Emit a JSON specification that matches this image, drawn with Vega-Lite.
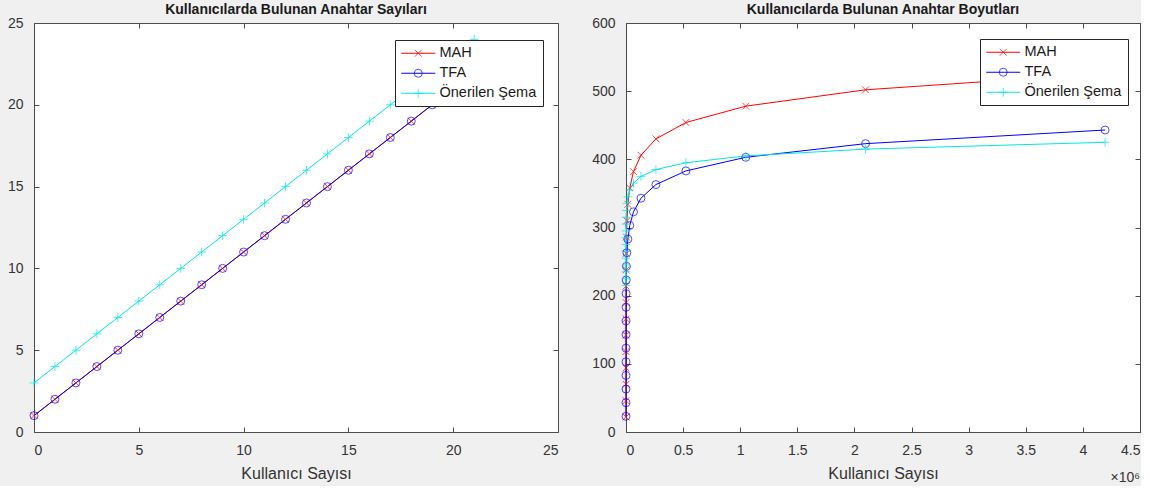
{
  "$schema": "https://vega.github.io/schema/vega-lite/v6.json",
  "background": "#f0f0f0",
  "padding": {"left": 3, "top": 2, "right": 0, "bottom": 0},
  "spacing": 32,
  "resolve": {"scale": {"color": "independent", "stroke": "independent", "shape": "independent"}},
  "config": {
    "font": "Liberation Sans",
    "view": {"stroke": "#4d4d4d", "fill": "white", "strokeWidth": 1},
    "axis": {"domain": false, "grid": false, "tickColor": "#4d4d4d", "tickSize": -5, "labelFontSize": 14, "labelColor": "#333333", "titleFontSize": 16, "titleFontWeight": "normal", "titleColor": "#333333", "labelFont": "Liberation Sans", "titleFont": "Liberation Sans"},
    "title": {"fontSize": 14, "fontWeight": "bold", "color": "#1a1a1a", "offset": -1, "anchor": "middle"},
    "legend": {"orient": "none", "padding": 6, "rowPadding": 5, "labelFontSize": 14.5, "symbolOffset": 10, "labelOffset": 14, "symbolStrokeWidth": 1, "symbolSize": 64, "cornerRadius": 0}
  },
  "datasets": {
    "left": [
      {"s": "MAH", "x": 0, "y": 1}, {"s": "MAH", "x": 1, "y": 2}, {"s": "MAH", "x": 2, "y": 3}, {"s": "MAH", "x": 3, "y": 4}, {"s": "MAH", "x": 4, "y": 5}, {"s": "MAH", "x": 5, "y": 6}, {"s": "MAH", "x": 6, "y": 7}, {"s": "MAH", "x": 7, "y": 8}, {"s": "MAH", "x": 8, "y": 9}, {"s": "MAH", "x": 9, "y": 10}, {"s": "MAH", "x": 10, "y": 11}, {"s": "MAH", "x": 11, "y": 12}, {"s": "MAH", "x": 12, "y": 13}, {"s": "MAH", "x": 13, "y": 14}, {"s": "MAH", "x": 14, "y": 15}, {"s": "MAH", "x": 15, "y": 16}, {"s": "MAH", "x": 16, "y": 17}, {"s": "MAH", "x": 17, "y": 18}, {"s": "MAH", "x": 18, "y": 19}, {"s": "MAH", "x": 19, "y": 20}, {"s": "MAH", "x": 20, "y": 21}, {"s": "MAH", "x": 21, "y": 22},
      {"s": "TFA", "x": 0, "y": 1}, {"s": "TFA", "x": 1, "y": 2}, {"s": "TFA", "x": 2, "y": 3}, {"s": "TFA", "x": 3, "y": 4}, {"s": "TFA", "x": 4, "y": 5}, {"s": "TFA", "x": 5, "y": 6}, {"s": "TFA", "x": 6, "y": 7}, {"s": "TFA", "x": 7, "y": 8}, {"s": "TFA", "x": 8, "y": 9}, {"s": "TFA", "x": 9, "y": 10}, {"s": "TFA", "x": 10, "y": 11}, {"s": "TFA", "x": 11, "y": 12}, {"s": "TFA", "x": 12, "y": 13}, {"s": "TFA", "x": 13, "y": 14}, {"s": "TFA", "x": 14, "y": 15}, {"s": "TFA", "x": 15, "y": 16}, {"s": "TFA", "x": 16, "y": 17}, {"s": "TFA", "x": 17, "y": 18}, {"s": "TFA", "x": 18, "y": 19}, {"s": "TFA", "x": 19, "y": 20}, {"s": "TFA", "x": 20, "y": 21}, {"s": "TFA", "x": 21, "y": 22},
      {"s": "Önerilen Şema", "x": 0, "y": 3}, {"s": "Önerilen Şema", "x": 1, "y": 4}, {"s": "Önerilen Şema", "x": 2, "y": 5}, {"s": "Önerilen Şema", "x": 3, "y": 6}, {"s": "Önerilen Şema", "x": 4, "y": 7}, {"s": "Önerilen Şema", "x": 5, "y": 8}, {"s": "Önerilen Şema", "x": 6, "y": 9}, {"s": "Önerilen Şema", "x": 7, "y": 10}, {"s": "Önerilen Şema", "x": 8, "y": 11}, {"s": "Önerilen Şema", "x": 9, "y": 12}, {"s": "Önerilen Şema", "x": 10, "y": 13}, {"s": "Önerilen Şema", "x": 11, "y": 14}, {"s": "Önerilen Şema", "x": 12, "y": 15}, {"s": "Önerilen Şema", "x": 13, "y": 16}, {"s": "Önerilen Şema", "x": 14, "y": 17}, {"s": "Önerilen Şema", "x": 15, "y": 18}, {"s": "Önerilen Şema", "x": 16, "y": 19}, {"s": "Önerilen Şema", "x": 17, "y": 20}, {"s": "Önerilen Şema", "x": 18, "y": 21}, {"s": "Önerilen Şema", "x": 19, "y": 22}, {"s": "Önerilen Şema", "x": 20, "y": 23}, {"s": "Önerilen Şema", "x": 21, "y": 24}
    ],
    "right": [
      {"s": "MAH", "x": 2, "y": 22}, {"s": "MAH", "x": 4, "y": 46}, {"s": "MAH", "x": 8, "y": 70}, {"s": "MAH", "x": 16, "y": 94}, {"s": "MAH", "x": 32, "y": 118}, {"s": "MAH", "x": 64, "y": 142}, {"s": "MAH", "x": 128, "y": 166}, {"s": "MAH", "x": 256, "y": 190}, {"s": "MAH", "x": 512, "y": 214}, {"s": "MAH", "x": 1024, "y": 238}, {"s": "MAH", "x": 2048, "y": 262}, {"s": "MAH", "x": 4096, "y": 286}, {"s": "MAH", "x": 8192, "y": 310}, {"s": "MAH", "x": 16384, "y": 334}, {"s": "MAH", "x": 32768, "y": 358}, {"s": "MAH", "x": 65536, "y": 382}, {"s": "MAH", "x": 131072, "y": 406}, {"s": "MAH", "x": 262144, "y": 430}, {"s": "MAH", "x": 524288, "y": 454}, {"s": "MAH", "x": 1048576, "y": 478}, {"s": "MAH", "x": 2097152, "y": 502}, {"s": "MAH", "x": 4194304, "y": 526},
      {"s": "TFA", "x": 2, "y": 23}, {"s": "TFA", "x": 4, "y": 43}, {"s": "TFA", "x": 8, "y": 63}, {"s": "TFA", "x": 16, "y": 83}, {"s": "TFA", "x": 32, "y": 103}, {"s": "TFA", "x": 64, "y": 123}, {"s": "TFA", "x": 128, "y": 143}, {"s": "TFA", "x": 256, "y": 163}, {"s": "TFA", "x": 512, "y": 183}, {"s": "TFA", "x": 1024, "y": 203}, {"s": "TFA", "x": 2048, "y": 223}, {"s": "TFA", "x": 4096, "y": 243}, {"s": "TFA", "x": 8192, "y": 263}, {"s": "TFA", "x": 16384, "y": 283}, {"s": "TFA", "x": 32768, "y": 303}, {"s": "TFA", "x": 65536, "y": 323}, {"s": "TFA", "x": 131072, "y": 343}, {"s": "TFA", "x": 262144, "y": 363}, {"s": "TFA", "x": 524288, "y": 383}, {"s": "TFA", "x": 1048576, "y": 403}, {"s": "TFA", "x": 2097152, "y": 423}, {"s": "TFA", "x": 4194304, "y": 443},
      {"s": "Önerilen Şema", "x": 2, "y": 215}, {"s": "Önerilen Şema", "x": 4, "y": 225}, {"s": "Önerilen Şema", "x": 8, "y": 235}, {"s": "Önerilen Şema", "x": 16, "y": 245}, {"s": "Önerilen Şema", "x": 32, "y": 255}, {"s": "Önerilen Şema", "x": 64, "y": 265}, {"s": "Önerilen Şema", "x": 128, "y": 275}, {"s": "Önerilen Şema", "x": 256, "y": 285}, {"s": "Önerilen Şema", "x": 512, "y": 295}, {"s": "Önerilen Şema", "x": 1024, "y": 305}, {"s": "Önerilen Şema", "x": 2048, "y": 315}, {"s": "Önerilen Şema", "x": 4096, "y": 325}, {"s": "Önerilen Şema", "x": 8192, "y": 335}, {"s": "Önerilen Şema", "x": 16384, "y": 345}, {"s": "Önerilen Şema", "x": 32768, "y": 355}, {"s": "Önerilen Şema", "x": 65536, "y": 365}, {"s": "Önerilen Şema", "x": 131072, "y": 375}, {"s": "Önerilen Şema", "x": 262144, "y": 385}, {"s": "Önerilen Şema", "x": 524288, "y": 395}, {"s": "Önerilen Şema", "x": 1048576, "y": 405}, {"s": "Önerilen Şema", "x": 2097152, "y": 415}, {"s": "Önerilen Şema", "x": 4194304, "y": 425}
    ],
    "exponent": [{"t": "×10⁶"}]
  },
  "hconcat": [
    {
      "width": 524,
      "height": 409,
      "title": "Kullanıcılarda Bulunan Anahtar Sayıları",
      "data": {"name": "left"},
      "layer": [
        {
          "mark": {"type": "line", "strokeWidth": 1},
          "encoding": {
            "x": {"field": "x", "type": "quantitative", "scale": {"domain": [0, 25], "nice": false}, "axis": {"orient": "bottom", "values": [0, 5, 10, 15, 20, 25], "title": "Kullanıcı Sayısı", "labelPadding": 16, "titlePadding": 8}},
            "y": {"field": "y", "type": "quantitative", "scale": {"domain": [0, 25], "nice": false}, "axis": {"orient": "left", "values": [0, 5, 10, 15, 20, 25], "title": null, "labelPadding": 16, "minExtent": 30, "maxExtent": 30}},
            "color": {"field": "s", "type": "nominal", "scale": {"domain": ["MAH", "TFA", "Önerilen Şema"], "range": ["#ff0000", "#0000ff", "#00e6e6"]}, "legend": {"title": null, "legendX": 361, "legendY": 17, "symbolType": "M-4.25,0H4.25", "strokeColor": "#262626", "fillColor": "white", "labelColor": "#1a1a1a"}}
          }
        },
        {
          "mark": {"type": "point", "filled": false, "strokeWidth": 1, "size": 64},
          "encoding": {
            "x": {"field": "x", "type": "quantitative", "axis": {"orient": "top", "values": [0, 5, 10, 15, 20, 25], "labels": false, "title": null, "minExtent": 0, "maxExtent": 0}},
            "y": {"field": "y", "type": "quantitative", "axis": {"orient": "right", "values": [0, 5, 10, 15, 20, 25], "labels": false, "title": null, "minExtent": 0, "maxExtent": 0}},
            "stroke": {"field": "s", "type": "nominal", "scale": {"range": ["#ff0000", "#0000ff", "#00e6e6"]}, "legend": {"title": null, "legendX": 361, "legendY": 17, "labelColor": "transparent"}},
            "shape": {"field": "s", "type": "nominal", "scale": {"range": ["M-0.85,-0.85L0.85,0.85M0.85,-0.85L-0.85,0.85", "circle", "M0,-1.1V1.1M-1.1,0H1.1"]}, "legend": {"title": null, "legendX": 361, "legendY": 17, "labelColor": "transparent"}}
          }
        }
      ],
      "resolve": {"axis": {"x": "independent", "y": "independent"}}
    },
    {
      "width": 514,
      "height": 409,
      "title": "Kullanıcılarda Bulunan Anahtar Boyutları",
      "layer": [
        {
          "data": {"name": "right"},
          "mark": {"type": "line", "strokeWidth": 1},
          "encoding": {
            "x": {"field": "x", "type": "quantitative", "scale": {"domain": [0, 4500000], "nice": false}, "axis": {"orient": "bottom", "values": [0, 500000, 1000000, 1500000, 2000000, 2500000, 3000000, 3500000, 4000000, 4500000], "labelExpr": "datum.value / 1000000", "title": "Kullanıcı Sayısı", "labelPadding": 16, "titlePadding": 8}},
            "y": {"field": "y", "type": "quantitative", "scale": {"domain": [0, 600], "nice": false}, "axis": {"orient": "left", "values": [0, 100, 200, 300, 400, 500, 600], "title": null, "labelPadding": 16, "minExtent": 34, "maxExtent": 34}},
            "color": {"field": "s", "type": "nominal", "scale": {"domain": ["MAH", "TFA", "Önerilen Şema"], "range": ["#ff0000", "#0000ff", "#00e6e6"]}, "legend": {"title": null, "legendX": 354, "legendY": 16, "symbolType": "M-4.25,0H4.25", "strokeColor": "#262626", "fillColor": "white", "labelColor": "#1a1a1a"}}
          }
        },
        {
          "data": {"name": "right"},
          "mark": {"type": "point", "filled": false, "strokeWidth": 1, "size": 64},
          "encoding": {
            "x": {"field": "x", "type": "quantitative", "axis": {"orient": "top", "values": [0, 500000, 1000000, 1500000, 2000000, 2500000, 3000000, 3500000, 4000000, 4500000], "labels": false, "title": null, "minExtent": 0, "maxExtent": 0}},
            "y": {"field": "y", "type": "quantitative", "axis": {"orient": "right", "values": [0, 100, 200, 300, 400, 500, 600], "labels": false, "title": null, "minExtent": 0, "maxExtent": 0}},
            "stroke": {"field": "s", "type": "nominal", "scale": {"range": ["#ff0000", "#0000ff", "#00e6e6"]}, "legend": {"title": null, "legendX": 354, "legendY": 16, "labelColor": "transparent"}},
            "shape": {"field": "s", "type": "nominal", "scale": {"range": ["M-0.85,-0.85L0.85,0.85M0.85,-0.85L-0.85,0.85", "circle", "M0,-1.1V1.1M-1.1,0H1.1"]}, "legend": {"title": null, "legendX": 354, "legendY": 16, "labelColor": "transparent"}}
          }
        },
        {
          "data": {"name": "exponent"},
          "mark": {"type": "text", "align": "right", "baseline": "middle", "dy": 46, "fontSize": 14, "color": "#333333"},
          "encoding": {
            "x": {"datum": 4500000, "type": "quantitative", "axis": null},
            "y": {"datum": 0, "type": "quantitative", "axis": null},
            "text": {"field": "t"}
          }
        }
      ],
      "resolve": {"axis": {"x": "independent", "y": "independent"}}
    }
  ]
}
